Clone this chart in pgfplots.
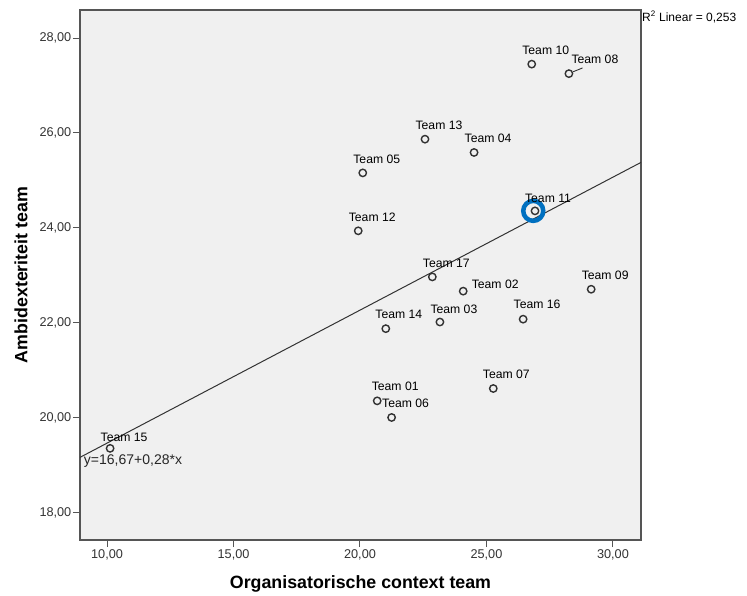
\documentclass[border=0pt]{standalone}
\usepackage{fontspec}
\setmainfont{Liberation Sans}
\usepackage{pgfplots}
\usepackage{pgfplotstable}
\pgfplotsset{compat=1.18}
\definecolor{bg}{RGB}{240,240,240}
\definecolor{frame}{RGB}{85,85,85}
\definecolor{hl}{RGB}{0,112,192}
\definecolor{mk}{RGB}{50,50,50}

\pgfplotstableread[col sep=comma]{
x,y,label,dx,dy
26.79,27.45,Team 10,14,14
28.26,27.25,Team 08,26,14
22.57,25.87,Team 13,14,14
24.51,25.59,Team 04,14,14
20.11,25.16,Team 05,14,14
19.93,23.94,Team 12,14,14
26.92,24.36,Team 11,13,13
22.86,22.97,Team 17,14,14
24.08,22.67,Team 02,32,7
29.14,22.71,Team 09,14,14
21.02,21.88,Team 14,13,14
23.16,22.02,Team 03,14,13
26.45,22.08,Team 16,14,15
25.27,20.62,Team 07,13,14
20.68,20.36,Team 01,18,15
21.25,20.01,Team 06,14,14
10.12,19.36,Team 15,14,11
}\teams

\begin{document}
\begin{tikzpicture}
\begin{axis}[
  scale only axis, width=561pt, height=530pt,
  xmin=8.93, xmax=31.11, ymin=17.43, ymax=28.59,
  axis background/.style={fill=bg},
  axis line style={frame, line width=1.2pt},
  tick pos=left, tick align=outside,
  major tick length=7pt,
  every tick/.style={frame, line width=1pt},
  xtick={10,15,20,25,30}, ytick={18,20,22,24,26,28},
  /pgf/number format/.cd, fixed, fixed zerofill, precision=2, use comma, assume math mode=true,
  /pgfplots/.cd,
  tick label style={font=\fontsize{12.7}{14}\selectfont, text=black!80},
  yticklabel style={inner sep=1.5pt},
  xticklabel style={inner sep=2pt},
  xlabel={Organisatorische context team},
  ylabel={Ambidexteriteit team},
  xlabel style={at={(axis description cs:0.5,-0.083)}, anchor=center, font=\bfseries\fontsize{17.8}{20}\selectfont},
  ylabel style={at={(axis description cs:-0.105,0.5)}, anchor=center, font=\bfseries\fontsize{17.8}{20}\selectfont},
  clip=false,
]
% regression line
\addplot[black!80, line width=1pt] coordinates {(8.93,19.170) (31.11,25.381)};
% leader line Team 08
\addplot[black!80, line width=0.9pt] coordinates {(28.43,27.29) (28.80,27.37)};
% highlight Team 11
\addplot[only marks, mark=o, mark size=10pt, hl, line width=4.5pt] coordinates {(26.85,24.36)};
% points
\addplot[only marks, mark=o, mark size=3.7pt, mk, line width=1.4pt,
  point meta=explicit symbolic,
  nodes near coords,
  visualization depends on={\thisrow{dx}\as\dx},
  visualization depends on={\thisrow{dy}\as\dy},
  every node near coord/.append style={anchor=center, xshift=\dx pt, yshift=\dy pt, text=black, font=\fontsize{12.2}{14}\selectfont, inner sep=0pt},
] table[x=x, y=y, meta=label] {\teams};
\node[anchor=west, inner sep=0pt, font=\fontsize{14}{16}\selectfont, text=black!85] at (axis cs:9.08,19.10) {y=16,67+0,28*x};
\node[anchor=north west, inner sep=1pt, font=\fontsize{12}{14}\selectfont] at (rel axis cs:1,1) {R\textsuperscript{2} Linear = 0,253};
\end{axis}
\path (current axis.south west) ++(-80pt,-54pt) rectangle ++(747pt,594pt);
\end{tikzpicture}
\end{document}
